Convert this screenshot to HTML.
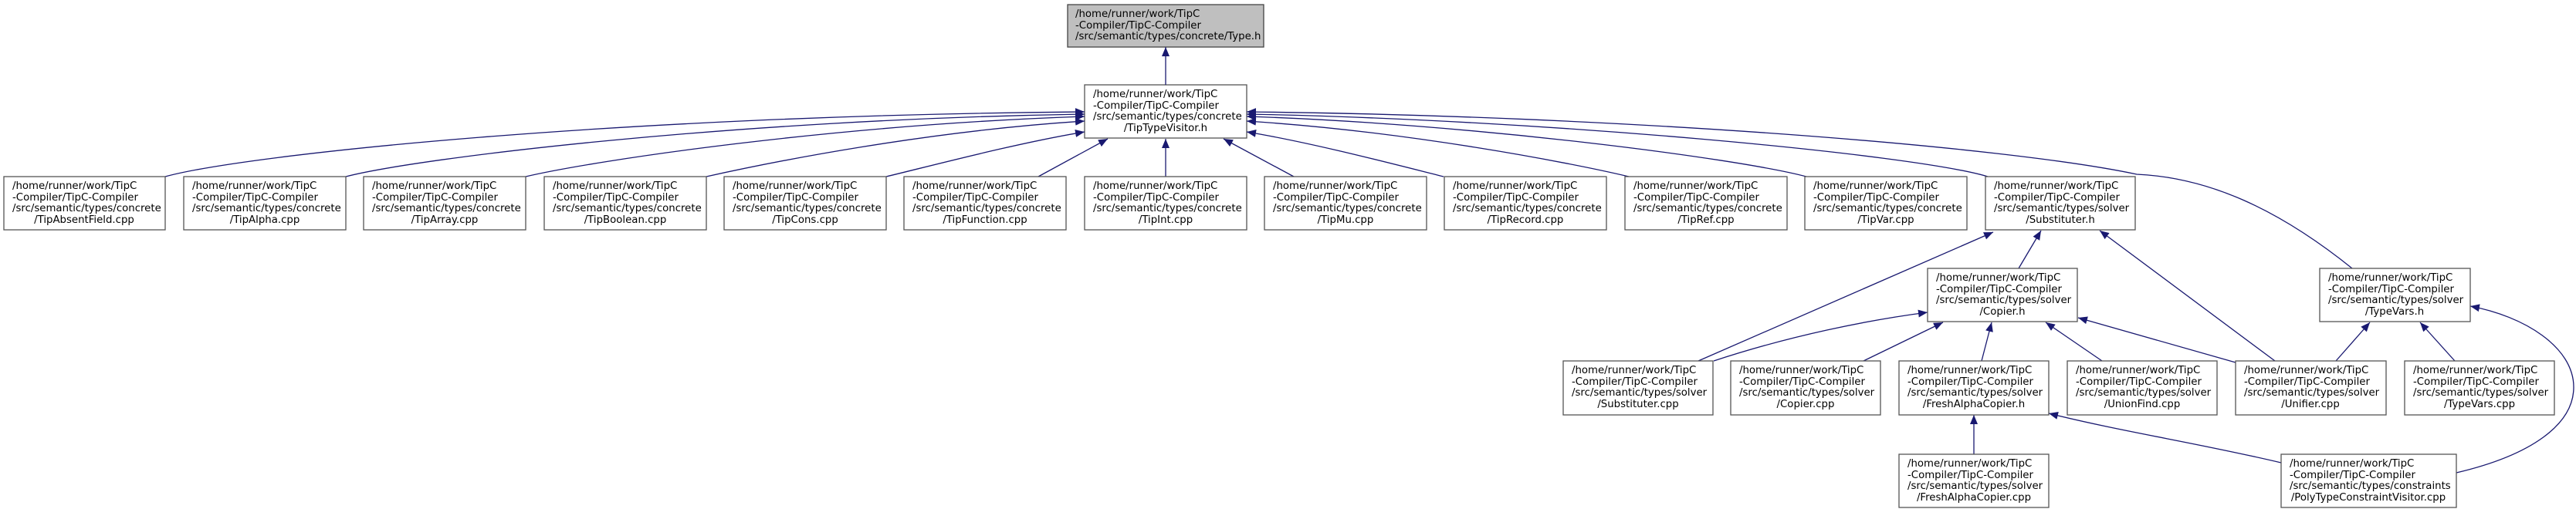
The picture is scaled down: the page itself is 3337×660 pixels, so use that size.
<!DOCTYPE html>
<html><head><meta charset="utf-8"><style>
html,body{margin:0;padding:0;background:#fff;}
svg{display:block;}
text{font-family:"DejaVu Sans","Liberation Sans",sans-serif;font-size:13.3px;fill:#000;}
.b{fill:#fff;stroke:#555;stroke-width:1.3;}
.e{fill:none;stroke:#191970;stroke-width:1.3;}
</style></head><body>
<svg width="3337" height="660" viewBox="0 0 3337 660" xmlns="http://www.w3.org/2000/svg">
<defs>
<marker id="a" viewBox="0 0 12 10" refX="12" refY="5" markerUnits="userSpaceOnUse" markerWidth="12" markerHeight="10" orient="auto">
<path d="M0,0 L12,5 L0,10 z" fill="#191970"/>
</marker>
</defs>

<rect x="1383" y="6" width="254" height="55" fill="#bfbfbf" stroke="#444" stroke-width="1.3"/>
<text x="1393" y="22">/home/runner/work/TipC</text>
<text x="1393" y="37">-Compiler/TipC-Compiler</text>
<text x="1393" y="51">/src/semantic/types/concrete/Type.h</text>

<rect class="b" x="1405" y="110" width="210" height="69"/>
<text x="1416" y="126">/home/runner/work/TipC</text>
<text x="1416" y="141">-Compiler/TipC-Compiler</text>
<text x="1416" y="155">/src/semantic/types/concrete</text>
<text x="1510" y="170" text-anchor="middle">/TipTypeVisitor.h</text>

<path class="e" marker-end="url(#a)" d="M1510,110 L1510,61"/>
<path class="e" marker-end="url(#a)" d="M214,229 C320,200 800,150 1405,145"/>
<path class="e" marker-end="url(#a)" d="M448,229 C540,205 950,155 1405,148"/>
<path class="e" marker-end="url(#a)" d="M681,229 C770,208 1080,162 1405,151"/>
<path class="e" marker-end="url(#a)" d="M915,229 C1000,210 1200,170 1405,157"/>
<path class="e" marker-end="url(#a)" d="M1148,229 C1210,214 1320,185 1405,171"/>
<path class="e" marker-end="url(#a)" d="M1345,229 L1435,180"/>
<path class="e" marker-end="url(#a)" d="M1510,229 L1510,180"/>
<path class="e" marker-end="url(#a)" d="M1676,229 L1585,180"/>
<path class="e" marker-end="url(#a)" d="M1870,229 C1810,214 1700,185 1615,171"/>
<path class="e" marker-end="url(#a)" d="M2110,229 C2030,210 1820,170 1615,157"/>
<path class="e" marker-end="url(#a)" d="M2340,229 C2250,205 1900,160 1615,151"/>
<path class="e" marker-end="url(#a)" d="M2575,229 C2480,200 2000,155 1615,148"/>
<path class="e" marker-end="url(#a)" d="M3047,348 C2950,270 2860,230 2768,226 C2600,190 2100,150 1615,145"/>

<path class="e" marker-end="url(#a)" d="M2200,468 L2582,301"/>
<path class="e" marker-end="url(#a)" d="M2615,348 L2644,299"/>
<path class="e" marker-end="url(#a)" d="M2947,468 L2720,299"/>
<path class="e" marker-end="url(#a)" d="M2220,468 C2320,435 2420,415 2497,405"/>
<path class="e" marker-end="url(#a)" d="M2414,468 L2517,418"/>
<path class="e" marker-end="url(#a)" d="M2567,468 L2580,418"/>
<path class="e" marker-end="url(#a)" d="M2723,468 L2650,418"/>
<path class="e" marker-end="url(#a)" d="M2896,470 L2692,412"/>
<path class="e" marker-end="url(#a)" d="M3026,468 L3070,418"/>
<path class="e" marker-end="url(#a)" d="M3180,468 L3135,418"/>
<path class="e" marker-end="url(#a)" d="M3182,613 C3280,590 3334,550 3334,502 C3334,450 3270,410 3200,397"/>
<path class="e" marker-end="url(#a)" d="M2557,589 L2557,538"/>
<path class="e" marker-end="url(#a)" d="M2955,600 C2850,575 2750,560 2654,536"/>

<g>
<rect class="b" x="5" y="229" width="209" height="69"/>
<text x="16" y="245">/home/runner/work/TipC</text><text x="16" y="260">-Compiler/TipC-Compiler</text><text x="16" y="274">/src/semantic/types/concrete</text><text x="109" y="289" text-anchor="middle">/TipAbsentField.cpp</text>
<rect class="b" x="238" y="229" width="210" height="69"/>
<text x="249" y="245">/home/runner/work/TipC</text><text x="249" y="260">-Compiler/TipC-Compiler</text><text x="249" y="274">/src/semantic/types/concrete</text><text x="343" y="289" text-anchor="middle">/TipAlpha.cpp</text>
<rect class="b" x="471" y="229" width="210" height="69"/>
<text x="482" y="245">/home/runner/work/TipC</text><text x="482" y="260">-Compiler/TipC-Compiler</text><text x="482" y="274">/src/semantic/types/concrete</text><text x="576" y="289" text-anchor="middle">/TipArray.cpp</text>
<rect class="b" x="705" y="229" width="210" height="69"/>
<text x="716" y="245">/home/runner/work/TipC</text><text x="716" y="260">-Compiler/TipC-Compiler</text><text x="716" y="274">/src/semantic/types/concrete</text><text x="810" y="289" text-anchor="middle">/TipBoolean.cpp</text>
<rect class="b" x="938" y="229" width="210" height="69"/>
<text x="949" y="245">/home/runner/work/TipC</text><text x="949" y="260">-Compiler/TipC-Compiler</text><text x="949" y="274">/src/semantic/types/concrete</text><text x="1043" y="289" text-anchor="middle">/TipCons.cpp</text>
<rect class="b" x="1171" y="229" width="210" height="69"/>
<text x="1182" y="245">/home/runner/work/TipC</text><text x="1182" y="260">-Compiler/TipC-Compiler</text><text x="1182" y="274">/src/semantic/types/concrete</text><text x="1276" y="289" text-anchor="middle">/TipFunction.cpp</text>
<rect class="b" x="1405" y="229" width="210" height="69"/>
<text x="1416" y="245">/home/runner/work/TipC</text><text x="1416" y="260">-Compiler/TipC-Compiler</text><text x="1416" y="274">/src/semantic/types/concrete</text><text x="1510" y="289" text-anchor="middle">/TipInt.cpp</text>
<rect class="b" x="1638" y="229" width="210" height="69"/>
<text x="1649" y="245">/home/runner/work/TipC</text><text x="1649" y="260">-Compiler/TipC-Compiler</text><text x="1649" y="274">/src/semantic/types/concrete</text><text x="1743" y="289" text-anchor="middle">/TipMu.cpp</text>
<rect class="b" x="1871" y="229" width="210" height="69"/>
<text x="1882" y="245">/home/runner/work/TipC</text><text x="1882" y="260">-Compiler/TipC-Compiler</text><text x="1882" y="274">/src/semantic/types/concrete</text><text x="1976" y="289" text-anchor="middle">/TipRecord.cpp</text>
<rect class="b" x="2105" y="229" width="210" height="69"/>
<text x="2116" y="245">/home/runner/work/TipC</text><text x="2116" y="260">-Compiler/TipC-Compiler</text><text x="2116" y="274">/src/semantic/types/concrete</text><text x="2210" y="289" text-anchor="middle">/TipRef.cpp</text>
<rect class="b" x="2338" y="229" width="210" height="69"/>
<text x="2349" y="245">/home/runner/work/TipC</text><text x="2349" y="260">-Compiler/TipC-Compiler</text><text x="2349" y="274">/src/semantic/types/concrete</text><text x="2443" y="289" text-anchor="middle">/TipVar.cpp</text>
<rect class="b" x="2572" y="229" width="194" height="69"/>
<text x="2583" y="245">/home/runner/work/TipC</text><text x="2583" y="260">-Compiler/TipC-Compiler</text><text x="2583" y="274">/src/semantic/types/solver</text><text x="2669" y="289" text-anchor="middle">/Substituter.h</text>
</g>

<rect class="b" x="2497" y="348" width="194" height="69"/>
<text x="2508" y="364">/home/runner/work/TipC</text><text x="2508" y="379">-Compiler/TipC-Compiler</text><text x="2508" y="393">/src/semantic/types/solver</text><text x="2594" y="408" text-anchor="middle">/Copier.h</text>
<rect class="b" x="3005" y="348" width="195" height="69"/>
<text x="3016" y="364">/home/runner/work/TipC</text><text x="3016" y="379">-Compiler/TipC-Compiler</text><text x="3016" y="393">/src/semantic/types/solver</text><text x="3102" y="408" text-anchor="middle">/TypeVars.h</text>

<rect class="b" x="2025" y="468" width="194" height="70"/>
<text x="2036" y="484">/home/runner/work/TipC</text><text x="2036" y="499">-Compiler/TipC-Compiler</text><text x="2036" y="513">/src/semantic/types/solver</text><text x="2122" y="528" text-anchor="middle">/Substituter.cpp</text>
<rect class="b" x="2242" y="468" width="194" height="70"/>
<text x="2253" y="484">/home/runner/work/TipC</text><text x="2253" y="499">-Compiler/TipC-Compiler</text><text x="2253" y="513">/src/semantic/types/solver</text><text x="2339" y="528" text-anchor="middle">/Copier.cpp</text>
<rect class="b" x="2460" y="468" width="194" height="70"/>
<text x="2471" y="484">/home/runner/work/TipC</text><text x="2471" y="499">-Compiler/TipC-Compiler</text><text x="2471" y="513">/src/semantic/types/solver</text><text x="2557" y="528" text-anchor="middle">/FreshAlphaCopier.h</text>
<rect class="b" x="2678" y="468" width="194" height="70"/>
<text x="2689" y="484">/home/runner/work/TipC</text><text x="2689" y="499">-Compiler/TipC-Compiler</text><text x="2689" y="513">/src/semantic/types/solver</text><text x="2775" y="528" text-anchor="middle">/UnionFind.cpp</text>
<rect class="b" x="2896" y="468" width="195" height="70"/>
<text x="2907" y="484">/home/runner/work/TipC</text><text x="2907" y="499">-Compiler/TipC-Compiler</text><text x="2907" y="513">/src/semantic/types/solver</text><text x="2993" y="528" text-anchor="middle">/Unifier.cpp</text>
<rect class="b" x="3115" y="468" width="194" height="70"/>
<text x="3126" y="484">/home/runner/work/TipC</text><text x="3126" y="499">-Compiler/TipC-Compiler</text><text x="3126" y="513">/src/semantic/types/solver</text><text x="3212" y="528" text-anchor="middle">/TypeVars.cpp</text>

<rect class="b" x="2460" y="589" width="194" height="69"/>
<text x="2471" y="605">/home/runner/work/TipC</text><text x="2471" y="620">-Compiler/TipC-Compiler</text><text x="2471" y="634">/src/semantic/types/solver</text><text x="2557" y="649" text-anchor="middle">/FreshAlphaCopier.cpp</text>
<rect class="b" x="2955" y="589" width="227" height="69"/>
<text x="2966" y="605">/home/runner/work/TipC</text><text x="2966" y="620">-Compiler/TipC-Compiler</text><text x="2966" y="634">/src/semantic/types/constraints</text><text x="3068" y="649" text-anchor="middle">/PolyTypeConstraintVisitor.cpp</text>
</svg>
</body></html>
